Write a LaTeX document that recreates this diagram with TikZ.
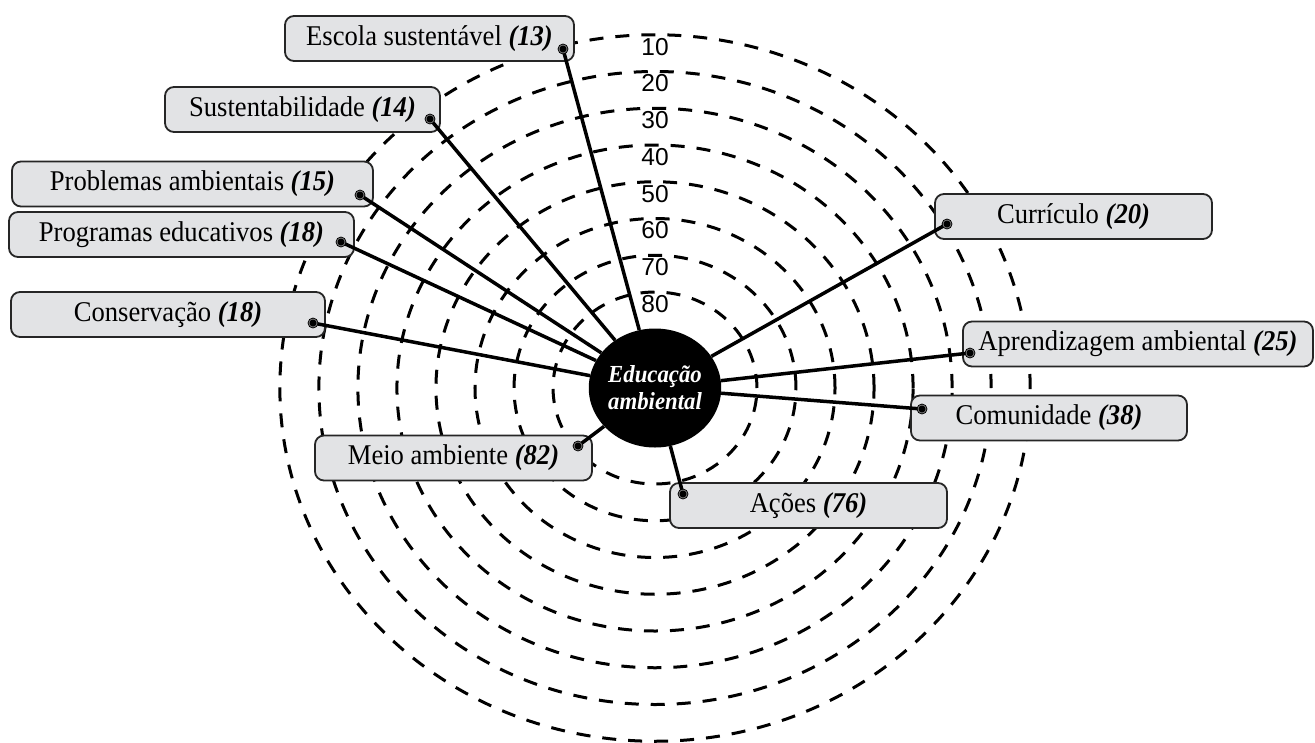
\documentclass[tikz,border=0pt]{standalone}
\usepackage{fontspec}
\setmainfont{Liberation Serif}[FakeStretch=0.93]
\newfontfamily\numfont{Liberation Sans}
\usetikzlibrary{shapes.geometric}
\definecolor{boxgray}{RGB}{226,227,229}
\definecolor{ringgray}{RGB}{130,130,130}

\begin{document}
\begin{tikzpicture}[x=1pt, y=-1pt,
  ring/.style={line width=3pt, dash pattern=on 14pt off 12pt},
  tag/.style={draw=black!85, line width=1.8pt, fill=boxgray, rounded corners=9pt,
    minimum height=45pt, inner sep=0pt, font=\fontsize{28.6}{32}\selectfont},
  spoke/.style={line width=3.5pt}]
  \useasboundingbox (0,0) rectangle (1315,742);
  \coordinate (o) at (655,388);
  \foreach \k [evaluate=\k as \r using 96+36.75*\k] in {0,...,7}
    \draw[ring] (o) ellipse [x radius=1.062*\r pt, y radius=\r pt];
  \foreach \v [count=\k from 0] in {10,20,...,80}
    \node[inner sep=0pt, font=\numfont\fontsize{24.5}{24.5}\selectfont] (lbl\v) at (655,{46.75+36.75*\k}) {\v};
  \foreach \nm/\cx/\cy/\w/\txt/\num/\dx/\dy in {
      esc/429.5/38.5/289/Escola sustentável/13/563/49,
      sus/302.5/109.5/275/Sustentabilidade/14/430/119,
      pro/192.5/184/361/Problemas ambientais/15/360/195,
      prg/181.5/234.5/345/Programas educativos/18/341/242,
      con/168/314.5/314/Conservação/18/313/323,
      cur/1073.5/216.5/277/Currículo/20/947/224,
      apr/1138/344/350/Aprendizagem ambiental/25/970/353,
      com/1049/418/276/Comunidade/38/922/409,
      mei/453.5/458/277/Meio ambiente/82/578/446,
      aco/808.5/505.5/277/Ações/76/683/494} {
    \node[tag, minimum width=\w pt] (\nm) at (\cx,\cy) {\txt\ \textbf{\textit{(\num)}}};
    \coordinate (\nm-dot) at (\dx,\dy);
  }
  \node[ellipse, fill=black, minimum width=125pt, minimum height=119pt, inner sep=0pt,
    text=white, align=center, font=\fontsize{24.5}{27}\selectfont\bfseries\itshape]
    (hub) at (o) {Educação\\ambiental};
  \foreach \nm in {esc,sus,pro,prg,con,cur,apr,com,mei,aco} {
    \draw[spoke] (\nm-dot) -- (hub);
    \filldraw[fill=ringgray, draw=black, line width=0.8pt] (\nm-dot) circle [radius=5pt];
    \fill (\nm-dot) circle [radius=3.5pt];
  }
\end{tikzpicture}
\end{document}
